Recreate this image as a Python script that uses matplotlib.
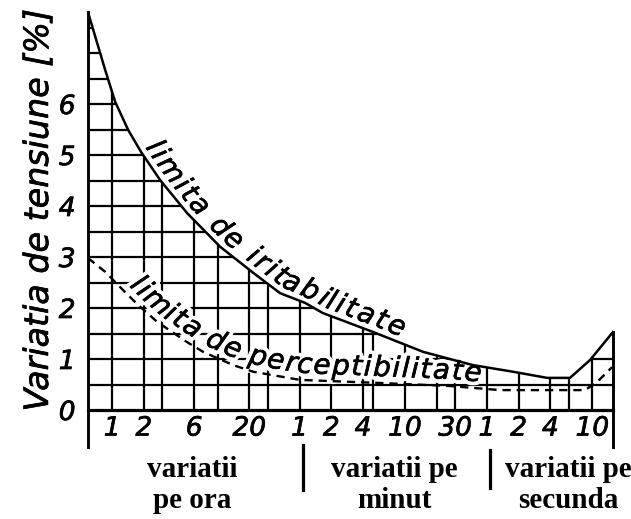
import numpy as np
import matplotlib.pyplot as plt
from matplotlib.patches import Polygon
from matplotlib.lines import Line2D
from matplotlib.ticker import NullLocator
from matplotlib.transforms import IdentityTransform
import matplotlib.patheffects as pe

# =============================================================================
# Data: rate of voltage changes (changes per hour; 1/min = 60, 1/s = 3600)
# =============================================================================
irit_rate = [0.59, 0.858, 1.07, 1.42, 1.88, 2.85, 5.15, 10.6, 21.8, 39.3,
             67.8, 100, 299, 893, 2660, 6380, 13400, 22100, 34300, 56600]
irit_pct = [7.8, 6.67, 6.04, 5.49, 5.06, 4.51, 3.86, 3.20, 2.69, 2.29,
            2.10, 1.90, 1.53, 1.14, 0.88, 0.75, 0.63, 0.63, 0.98, 1.53]

perc_rate = [0.59, 0.858, 1.19, 1.76, 2.67, 5.15, 7.3, 14.1, 21.8, 60.8,
             349, 1610, 4800, 30700, 40000, 55500]
perc_pct = [2.98, 2.71, 2.41, 2.06, 1.73, 1.33, 1.14, 0.88, 0.75, 0.59,
            0.53, 0.47, 0.39, 0.39, 0.55, 0.84]

grid_rate = [1, 2, 3, 6, 10, 20, 30, 60, 120, 240, 300, 600, 1200, 1800,
             3600, 7200, 14400, 21600, 36000]
grid_pct = [0.5, 1, 1.5, 2, 2.5, 3, 3.5, 4, 4.5, 5, 5.5, 6, 6.5, 7, 7.5]

tick_rate = [1, 2, 6, 20, 60, 120, 240, 600, 1800, 3600, 7200, 14400, 36000]
tick_text = ['1', '2', '6', '20', '1', '2', '4', '10', '30', '1', '2', '4', '10']
y_ticks = [0, 1, 2, 3, 4, 5, 6]

groups = ['variatii\npe ora', 'variatii pe\nminut', 'variatii pe\nsecunda']

x_min, x_max = 0.59, 56600

# slightly heavier strokes for the hand lettering
ink = [pe.withStroke(linewidth=0.5, foreground='k')]

# =============================================================================
# Plot
# =============================================================================
W, H = 631, 519
fig = plt.figure(figsize=(W / 100, H / 100), dpi=100)
ax = fig.add_axes([88 / W, 1 - 410 / H, 525 / W, 400 / H])
ax.set_xscale('log')
ax.set_xlim(x_min, x_max)
ax.set_ylim(0, 400 / 51)

# hatched area under the irritability limit
verts = [(x_min, 0)] + list(zip(irit_rate, irit_pct)) + [(x_max, 0)]
clip = Polygon(verts, closed=True, transform=ax.transData)
vl = ax.vlines(grid_rate, 0, 8, colors='k', lw=1.6, zorder=1)
hl = ax.hlines(grid_pct, x_min, x_max, colors='k', lw=1.6, zorder=1)
vl.set_clip_path(clip)
hl.set_clip_path(clip)

ax.plot(irit_rate, irit_pct, color='k', lw=1.8, zorder=4)
ax.plot(perc_rate, perc_pct, color='k', lw=1.7, dashes=(3.5, 2.5), zorder=4)

# frame: baseline plus the two long verticals
for s in ['top', 'right', 'left']:
    ax.spines[s].set_visible(False)
ax.spines['bottom'].set_linewidth(2.3)
ax.plot([x_min, x_min], [-0.73, irit_pct[0]], color='k', lw=2.1, clip_on=False, zorder=5)
ax.plot([x_max, x_max], [-0.73, irit_pct[-1]], color='k', lw=2.1, clip_on=False, zorder=5)

ax.set_xticks(tick_rate, tick_text)
ax.xaxis.set_minor_locator(NullLocator())
ax.set_yticks(y_ticks)
ax.tick_params(axis='both', length=0, labelsize=19)
ax.tick_params(axis='x', pad=4)
ax.tick_params(axis='y', pad=9)
for lab in ax.get_xticklabels() + ax.get_yticklabels():
    lab.set_style('italic')
    lab.set_path_effects(ink)

ylab = ax.set_ylabel('Variatia de tensiune [%]', fontsize=24, style='italic')
ylab.set_path_effects(ink)
ax.yaxis.set_label_coords(-0.063, 0.5)


def curve_label(xs, ys, text, x0, lift, size, track):
    # place the characters one by one along the curve, above it
    pts = ax.transData.transform(np.column_stack([xs, ys]))
    seg = np.diff(pts, axis=0)
    cum = np.concatenate([[0], np.cumsum(np.hypot(seg[:, 0], seg[:, 1]))])

    def at(s):
        return np.array([np.interp(s, cum, pts[:, 0]), np.interp(s, cum, pts[:, 1])])

    s = np.interp(ax.transData.transform((x0, 1))[0], pts[:, 0], cum)
    renderer = fig.canvas.get_renderer()
    for ch in text:
        if ch == ' ':
            s += 0.318 * size * 100 / 72 + track
            continue
        kw = dict(transform=IdentityTransform(), fontsize=size, style='italic',
                  ha='center', va='baseline', rotation_mode='anchor')
        t = ax.text(0, 0, ch, color='k', zorder=3, **kw)
        t.set_path_effects(ink)
        halo = ax.text(0, 0, ch, color='white', zorder=2.5, **kw)
        halo.set_path_effects([pe.withStroke(linewidth=6, foreground='white')])
        w = t.get_window_extent(renderer).width
        p0, p1 = at(s), at(s + w)
        d = p1 - p0
        ang = np.degrees(np.arctan2(d[1], d[0]))
        n = np.array([-d[1], d[0]]) / np.hypot(d[0], d[1])
        pos = (p0 + p1) / 2 + n * lift
        for a in (t, halo):
            a.set_position(pos)
            a.set_rotation(ang)
        s += w + track


curve_label(irit_rate, irit_pct, 'limita de iritabilitate', 1.85, 6, 20, 2.2)
curve_label(perc_rate, perc_pct, 'limita de perceptibilitate', 1.3, 7, 20, 1.6)

# group captions under the axis
for label, xc in zip(groups, [192, 394, 568]):
    fig.text(xc / W, 1 - 485 / H, label, ha='center', va='center',
             family='Liberation Serif', weight='bold', fontsize=21,
             linespacing=1.15)
for xb, y0, y1 in [(303, 445, 490), (490, 450, 488)]:
    fig.add_artist(Line2D([xb / W, xb / W], [1 - y0 / H, 1 - y1 / H],
                          transform=fig.transFigure, color='k', lw=2.3))

fig.savefig('out.png', dpi=100)
